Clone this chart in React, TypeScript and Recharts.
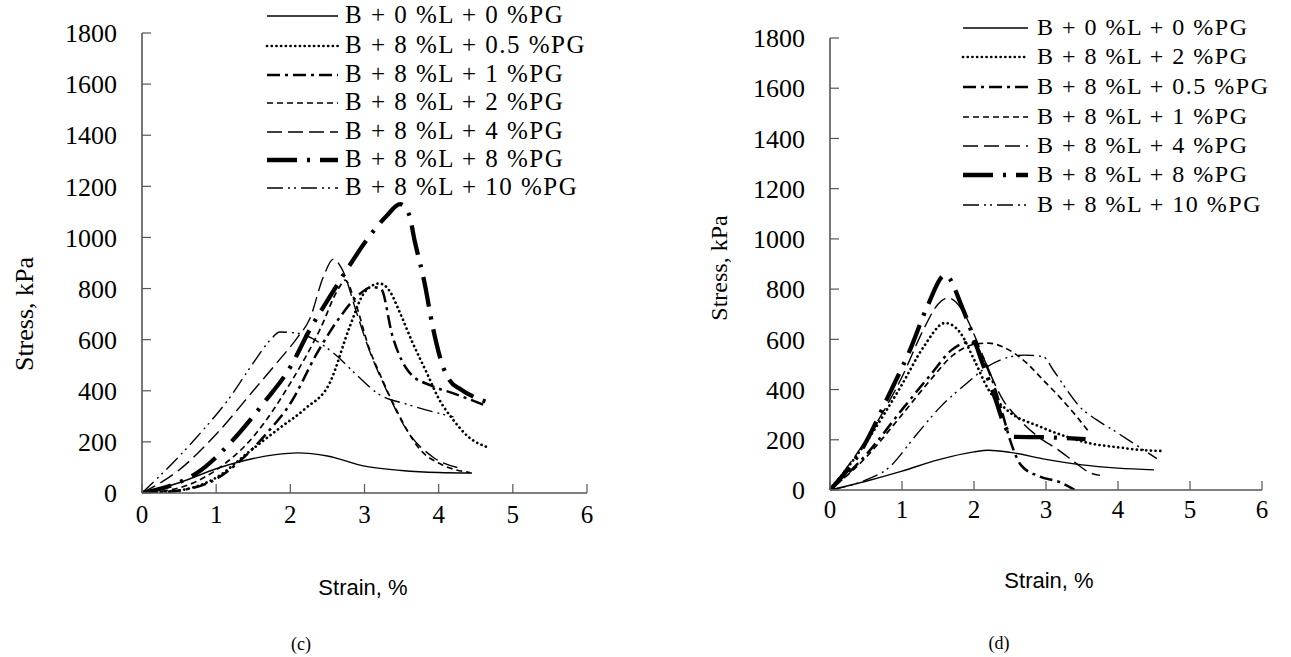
import React from 'react';
import { LineChart, Line, XAxis, YAxis } from 'recharts';

const X_TICKS = [0, 1, 2, 3, 4, 5, 6];
const Y_TICKS = [0, 200, 400, 600, 800, 1000, 1200, 1400, 1600, 1800];

const LABELS_C = [
  'B + 0 %L + 0 %PG',
  'B + 8 %L + 0.5 %PG',
  'B + 8 %L + 1 %PG',
  'B + 8 %L + 2 %PG',
  'B + 8 %L + 4 %PG',
  'B + 8 %L + 8 %PG',
  'B + 8 %L + 10 %PG',
];
const LABELS_D = [
  'B + 0 %L + 0 %PG',
  'B + 8 %L + 2 %PG',
  'B + 8 %L + 0.5 %PG',
  'B + 8 %L + 1 %PG',
  'B + 8 %L + 4 %PG',
  'B + 8 %L + 8 %PG',
  'B + 8 %L + 10 %PG',
];

// panel (c): [strain %, stress kPa]
const C_0PG = [[0, 0], [0.5, 40], [1, 95], [1.5, 135], [1.8, 150], [2.1, 157], [2.5, 145], [3, 105], [3.5, 88], [4, 80], [4.45, 78]];
const C_05PG = [[0, 0], [0.5, 10], [1, 60], [1.46, 165], [1.86, 255], [2.2, 330], [2.53, 430], [2.8, 650], [3.0, 785], [3.2, 820], [3.34, 790], [3.48, 704], [3.65, 587], [3.84, 470], [4.0, 370], [4.2, 285], [4.4, 220], [4.65, 180]];
const C_1PG = [[0, 0], [0.5, 10], [1, 55], [1.32, 125], [1.7, 240], [2.0, 350], [2.36, 547], [2.67, 689], [2.94, 780], [3.1, 806], [3.22, 800], [3.38, 611], [3.61, 470], [3.9, 420], [4.2, 390], [4.65, 340]];
const C_2PG = [[0, 0], [0.5, 20], [1, 90], [1.5, 220], [2, 430], [2.4, 640], [2.65, 800], [2.74, 833], [2.87, 750], [3.07, 560], [3.2, 470], [3.43, 325], [3.75, 170], [4.05, 110], [4.42, 80]];
const C_4PG = [[0, 0], [0.5, 90], [1, 230], [1.5, 400], [1.82, 510], [2.1, 610], [2.26, 680], [2.45, 850], [2.58, 915], [2.69, 880], [2.9, 700], [3.05, 570], [3.3, 400], [3.57, 246], [3.92, 141], [4.33, 95]];
const C_8PG = [[0, 0], [0.4, 30], [0.74, 78], [1.19, 196], [1.64, 352], [2.0, 493], [2.26, 638], [2.53, 767], [2.76, 873], [3.03, 990], [3.3, 1085], [3.48, 1130], [3.6, 1090], [3.68, 982], [3.81, 822], [3.92, 650], [4.06, 493], [4.15, 440], [4.3, 405], [4.65, 356]];
const C_10PG = [[0, 0], [0.28, 78], [0.74, 219], [1.19, 376], [1.5, 509], [1.73, 599], [1.86, 630], [2.1, 625], [2.58, 548], [2.9, 460], [3.17, 391], [3.6, 345], [4.2, 298]];

// panel (d), same row order as its legend
const D_0PG = [[0, 0], [0.5, 35], [1, 75], [1.5, 120], [2, 152], [2.2, 158], [2.5, 150], [3, 122], [3.5, 100], [4, 87], [4.5, 80]];
const D_2PG = [[0, 0], [0.5, 190], [1, 420], [1.3, 570], [1.6, 665], [1.8, 630], [2.0, 520], [2.2, 400], [2.46, 318], [2.92, 252], [3.29, 212], [3.61, 186], [4.0, 170], [4.3, 160], [4.65, 155]];
const D_05PG = [[0, 0], [0.5, 140], [1, 320], [1.4, 460], [1.7, 560], [1.95, 590], [2.1, 540], [2.25, 440], [2.4, 300], [2.5, 200], [2.65, 100], [2.9, 55], [3.2, 30], [3.4, 0]];
const D_1PG = [[0, 0], [0.5, 130], [1, 300], [1.4, 440], [1.7, 535], [2.0, 580], [2.2, 585], [2.4, 570], [2.73, 506], [2.96, 438], [3.19, 370], [3.43, 291], [3.6, 230]];
const D_4PG = [[0, 0], [0.5, 200], [1, 450], [1.3, 640], [1.5, 740], [1.64, 765], [1.85, 710], [2.0, 620], [2.2, 480], [2.4, 360], [2.6, 290], [2.9, 210], [3.17, 160], [3.4, 110], [3.6, 70], [3.75, 58]];
const D_8PG = [[0, 0], [0.46, 171], [0.83, 386], [1.11, 557], [1.35, 730], [1.6, 856], [1.85, 717], [2.1, 520], [2.3, 360], [2.42, 260], [2.55, 212], [3, 210], [3.55, 203]];
const D_10PG = [[0, 0], [0.5, 40], [0.8, 85], [1.2, 220], [1.53, 330], [1.9, 425], [2.18, 490], [2.5, 530], [2.7, 537], [2.96, 531], [3.1, 478], [3.29, 398], [3.47, 331], [3.7, 280], [3.93, 239], [4.21, 187], [4.54, 125]];

const C_SERIES = [C_0PG, C_05PG, C_1PG, C_2PG, C_4PG, C_8PG, C_10PG];
const D_SERIES = [D_0PG, D_2PG, D_05PG, D_1PG, D_4PG, D_8PG, D_10PG];

// line styles by legend row
const STYLES = [
  { dash: undefined, w: 1.4, cap: 'butt' },
  { dash: '0.1 4.6', w: 2.7, cap: 'round' },
  { dash: '13 5 3 5', w: 2.5, cap: 'butt' },
  { dash: '6 4', w: 1.7, cap: 'butt' },
  { dash: '15 6', w: 1.4, cap: 'butt' },
  { dash: '30 10 3 10', w: 4.3, cap: 'butt' },
  { dash: '16 5 2 4 2 5', w: 1.4, cap: 'butt' },
];

const SERIF = '"Liberation Serif", "Times New Roman", serif';
const SANS = '"Liberation Sans", Arial, sans-serif';

const toPts = (arr: number[][]) => arr.map(([x, y]) => ({ x, y }));

const Panel = ({ left, width, yAxisW, margin, series, tickMarginX }: any) => (
  <div style={{ position: 'absolute', left, top: 0, fontFamily: SERIF }}>
    <LineChart width={width} height={657} margin={margin}>
      <XAxis
        type="number"
        dataKey="x"
        domain={[0, 6]}
        ticks={X_TICKS}
        height={30}
        tickSize={-9}
        tickMargin={tickMarginX}
        axisLine={{ stroke: '#555', strokeWidth: 1.6 }}
        tickLine={{ stroke: '#555', strokeWidth: 1.2 }}
        tick={{ fill: '#000', fontSize: 25 }}
        allowDataOverflow
      />
      <YAxis
        type="number"
        domain={[0, 1800]}
        ticks={Y_TICKS}
        width={yAxisW}
        tickSize={-9}
        tickMargin={34}
        axisLine={{ stroke: '#555', strokeWidth: 1.6 }}
        tickLine={{ stroke: '#555', strokeWidth: 1.2 }}
        tick={{ fill: '#000', fontSize: 26 }}
        allowDataOverflow
      />
      {series.map((s: number[][], i: number) => (
        <Line
          key={i}
          data={toPts(s)}
          dataKey="y"
          type="monotone"
          stroke="#000"
          strokeWidth={STYLES[i].w}
          strokeDasharray={STYLES[i].dash}
          strokeLinecap={STYLES[i].cap as any}
          dot={false}
          activeDot={false}
          isAnimationActive={false}
        />
      ))}
    </LineChart>
  </div>
);

const LegendBlock = ({ x0, x1, textX, rows, labels, fontSize }: any) => (
  <>
    <svg width={1291} height={657} style={{ position: 'absolute', left: 0, top: 0, pointerEvents: 'none' }}>
      {rows.map((y: number, i: number) => (
        <line
          key={i}
          x1={x0}
          x2={x1}
          y1={y}
          y2={y}
          stroke="#000"
          strokeWidth={STYLES[i].w}
          strokeDasharray={STYLES[i].dash}
          strokeLinecap={STYLES[i].cap as any}
        />
      ))}
    </svg>
    {labels.map((l: string, i: number) => (
      <div
        key={i}
        style={{
          position: 'absolute',
          left: textX,
          top: rows[i] - fontSize * 0.55,
          fontFamily: SERIF,
          fontSize,
          lineHeight: `${fontSize}px`,
          letterSpacing: 1.5,
          whiteSpace: 'nowrap',
          color: '#000',
        }}
      >
        {l}
      </div>
    ))}
  </>
);

const Title = ({ x, y, text, size, font, rotate }: any) => (
  <div
    style={{
      position: 'absolute',
      left: x,
      top: y,
      transform: `translate(-50%, -50%)${rotate ? ' rotate(-90deg)' : ''}`,
      fontFamily: font,
      fontSize: size,
      whiteSpace: 'nowrap',
      color: '#000',
      lineHeight: 1,
    }}
  >
    {text}
  </div>
);

export default function App() {
  return (
    <div style={{ position: 'absolute', left: 0, top: 0, width: 1291, height: 657, background: '#fff', overflow: 'hidden' }}>
      <style>{`.recharts-cartesian-axis-tick text { font-family: ${SERIF}; }`}</style>
      <Panel
        left={0}
        width={620}
        yAxisW={142}
        margin={{ top: 33, right: 33, bottom: 134, left: 0 }}
        series={C_SERIES}
        tickMarginX={21}
      />
      <Panel
        left={660}
        width={631}
        yAxisW={170}
        margin={{ top: 38, right: 29, bottom: 137, left: 0 }}
        series={D_SERIES}
        tickMarginX={19}
      />
      <LegendBlock x0={267} x1={338} textX={345} rows={[16, 46, 75, 103, 132, 160, 188]} labels={LABELS_C} fontSize={25} />
      <LegendBlock x0={963} x1={1028} textX={1037} rows={[28, 57, 87, 117, 146, 175, 205]} labels={LABELS_D} fontSize={24} />

      <Title x={25} y={314} text="Stress, kPa" size={26} font={SERIF} rotate />
      <Title x={363} y={588} text="Strain, %" size={22} font={SANS} />
      <Title x={301} y={644} text="(c)" size={18} font={SERIF} />

      <Title x={719} y={268} text="Stress, kPa" size={24} font={SERIF} rotate />
      <Title x={1049} y={581} text="Strain, %" size={22} font={SANS} />
      <Title x={999} y={643} text="(d)" size={18} font={SERIF} />
    </div>
  );
}
